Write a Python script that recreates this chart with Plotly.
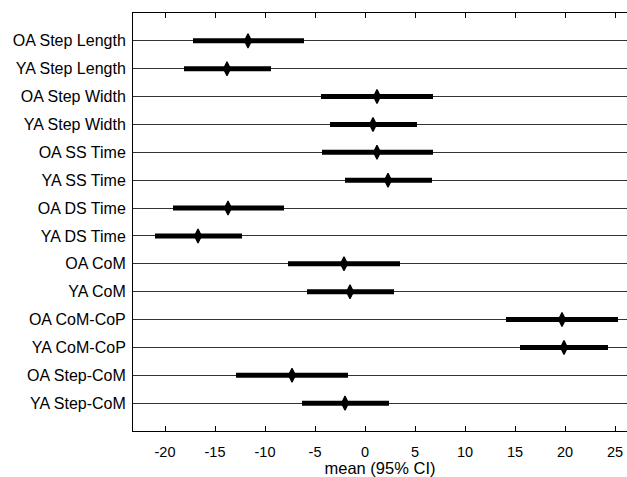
import plotly.graph_objects as go

# Outcome measures, top to bottom
labels = [
    "OA Step Length", "YA Step Length",
    "OA Step Width", "YA Step Width",
    "OA SS Time", "YA SS Time",
    "OA DS Time", "YA DS Time",
    "OA CoM", "YA CoM",
    "OA CoM-CoP", "YA CoM-CoP",
    "OA Step-CoM", "YA Step-CoM",
]
means = [-11.7, -13.8, 1.2, 0.8, 1.2, 2.3, -13.7, -16.7, -2.1, -1.5, 19.7, 19.9, -7.3, -2.0]
ci_low = [-17.2, -18.1, -4.4, -3.5, -4.3, -2.0, -19.2, -21.0, -7.7, -5.8, 14.1, 15.5, -12.9, -6.3]
ci_high = [-6.1, -9.4, 6.8, 5.2, 6.8, 6.7, -8.1, -12.3, 3.5, 2.9, 25.3, 24.3, -1.7, 2.4]
x_ticks = [-20, -15, -10, -5, 0, 5, 10, 15, 20, 25]

rows = list(range(1, len(labels) + 1))
family = "Liberation Sans, Arial, sans-serif"
label_font = dict(family=family, size=16, color="black")
tick_font = dict(family=family, size=14.5, color="black")
title_font = dict(family=family, size=16.5, color="black")

fig = go.Figure()

# 95% CI bars
for r, lo, hi in zip(rows, ci_low, ci_high):
    fig.add_trace(go.Scatter(
        x=[lo, hi], y=[r, r], mode="lines",
        line=dict(color="black", width=5),
        showlegend=False, hoverinfo="skip",
    ))

# Means
fig.add_trace(go.Scatter(
    x=means, y=rows, mode="markers",
    marker=dict(symbol="diamond-tall", size=10, color="black",
                line=dict(color="black", width=1.2)),
    showlegend=False,
))

fig.update_layout(
    width=627, height=477,
    margin=dict(l=133, r=0, t=13, b=46),
    paper_bgcolor="white", plot_bgcolor="white",
    font=tick_font,
)
fig.update_xaxes(
    range=[-23.2, 26.2],
    tickvals=x_ticks, ticktext=[str(v) for v in x_ticks],
    ticks="inside", ticklen=5, tickcolor="black", tickwidth=1,
    showline=True, linecolor="black", linewidth=1, mirror="ticks",
    showgrid=False, zeroline=False,
    ticklabelstandoff=8,
    title=dict(text="mean (95% CI)", font=title_font, standoff=3),
    tickfont=tick_font,
)
fig.update_yaxes(
    range=[15, 0],
    tickvals=rows, ticktext=labels,
    ticks="", showline=True, linecolor="black", linewidth=1,
    showgrid=True, gridcolor="#333333", gridwidth=1,
    ticklabelstandoff=3,
    zeroline=False, tickfont=label_font,
)

fig.write_html("out.html")
